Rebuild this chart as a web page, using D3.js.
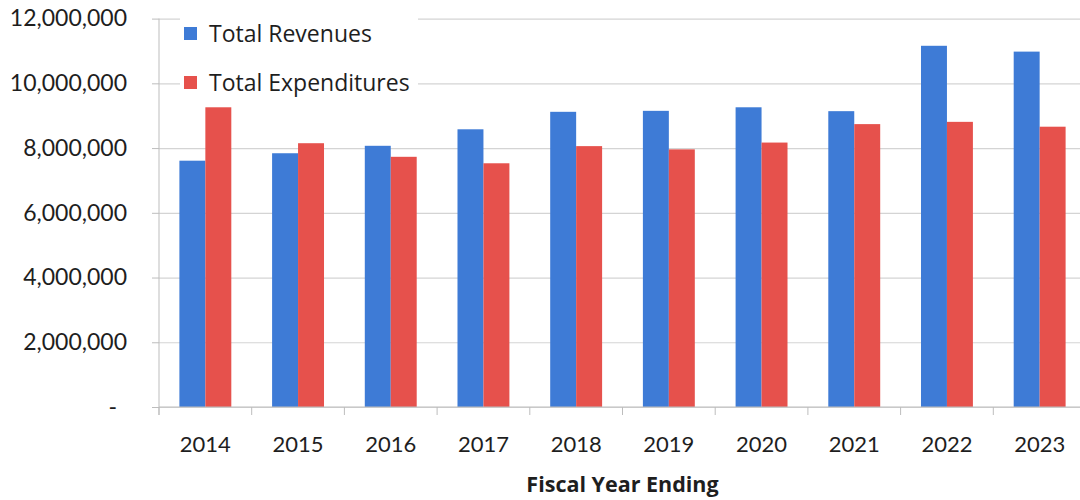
<!DOCTYPE html>
<html>
<head>
<meta charset="utf-8">
<script src="https://cdn.jsdelivr.net/npm/d3@7"></script>
<style>
  html, body { margin: 0; padding: 0; background: #fff; }
  svg { display: block; }
</style>
</head>
<body>
<svg id="chart" width="1080" height="500"></svg>
<script>
const years = ["2014","2015","2016","2017","2018","2019","2020","2021","2022","2023"];
const revenues = [7610000, 7840000, 8070000, 8580000, 9120000, 9150000, 9260000, 9140000, 11160000, 10980000];
const expenditures = [9260000, 8150000, 7730000, 7530000, 8060000, 7960000, 8170000, 8740000, 8810000, 8660000];
const seriesNames = ["Total Revenues", "Total Expenditures"];
const seriesColors = ["#3e7bd6", "#e6514c"];
const yTicks = [0, 2000000, 4000000, 6000000, 8000000, 10000000, 12000000];
const xTitle = "Fiscal Year Ending";

const svg = d3.select("#chart");
const mLeft = 159, mRight = 1086, mTop = 18.6, mBottom = 407;
const textColor = "#1e1e1e";

const x0 = d3.scaleBand().domain(years).range([mLeft, mRight]).paddingInner(0.44).paddingOuter(0.22);
const x1 = d3.scaleBand().domain(seriesNames).range([0, x0.bandwidth()]);
const y = d3.scaleLinear().domain([0, 12000000]).range([mBottom, mTop]);

// gridlines
const grid = svg.append("g").attr("transform", `translate(${mLeft},0)`)
  .call(d3.axisLeft(y).tickValues(yTicks).tickSize(-(mRight - mLeft)).tickFormat(""));
grid.select(".domain").remove();
grid.selectAll("line").attr("stroke", "#d4d4d4").attr("stroke-width", 1.2);

// y axis with labels
const yAxis = svg.append("g").attr("transform", `translate(${mLeft},0)`)
  .call(d3.axisLeft(y).tickValues(yTicks).tickSize(7).tickPadding(25)
    .tickFormat(d => d === 0 ? "-" : d3.format(",")(d)));
yAxis.select(".domain").attr("stroke", "#bdbdbd").attr("d", `M0,${mTop}V${mBottom + 8}`);
yAxis.selectAll("line").attr("stroke", "#bdbdbd");
yAxis.selectAll("text").style("font-size", "23px").style("font-family", "Lato, sans-serif").attr("fill", textColor);
yAxis.selectAll(".tick").filter(d => d === 0).select("text").attr("dx", -10);

// bars
const data = years.map((yr, i) => ({ year: yr, values: [revenues[i], expenditures[i]] }));
const groups = svg.append("g").selectAll("g").data(data).join("g")
  .attr("transform", d => `translate(${x0(d.year)},0)`);
groups.selectAll("rect")
  .data(d => d.values.map((v, k) => ({ name: seriesNames[k], value: v, color: seriesColors[k] })))
  .join("rect")
  .attr("x", d => x1(d.name))
  .attr("width", x1.bandwidth())
  .attr("y", d => y(d.value))
  .attr("height", d => mBottom - y(d.value))
  .attr("fill", d => d.color);

// x axis
svg.append("line").attr("x1", mLeft).attr("x2", mRight).attr("y1", mBottom).attr("y2", mBottom)
  .attr("stroke", "#bdbdbd").attr("stroke-width", 1.2);
const step = x0.step();
const boundaries = years.map(yr => x0(yr) - step * 0.22).concat([mRight]);
svg.append("g").selectAll("line").data(boundaries).join("line")
  .attr("x1", d => d).attr("x2", d => d).attr("y1", mBottom).attr("y2", mBottom + 8)
  .attr("stroke", "#bdbdbd");
const xAxis = svg.append("g").attr("transform", `translate(0,${mBottom})`)
  .call(d3.axisBottom(x0).tickSize(0).tickPadding(29));
xAxis.select(".domain").remove();
xAxis.selectAll("text").style("font-size", "22px").style("font-family", "Lato, sans-serif").attr("fill", textColor);

// x title
svg.append("text").attr("x", (mLeft + mRight) / 2).attr("y", 492)
  .attr("text-anchor", "middle")
  .style("font-size", "21.5px").style("font-weight", "bold")
  .style("font-family", "'Open Sans', sans-serif").attr("fill", textColor)
  .text(xTitle);

// legend
const legend = svg.append("g");
legend.append("rect").attr("x", 180).attr("y", 8).attr("width", 238).attr("height", 94).attr("fill", "#fff");
const items = legend.selectAll("g").data(seriesNames).join("g")
  .attr("transform", (d, i) => `translate(184,${27 + i * 49})`);
items.append("rect").attr("width", 13).attr("height", 13).attr("fill", (d, i) => seriesColors[i]);
items.append("text").attr("x", 25).attr("y", 15)
  .style("font-size", "23px").style("font-family", "'Open Sans', sans-serif").attr("fill", textColor)
  .text(d => d);
</script>
</body>
</html>
